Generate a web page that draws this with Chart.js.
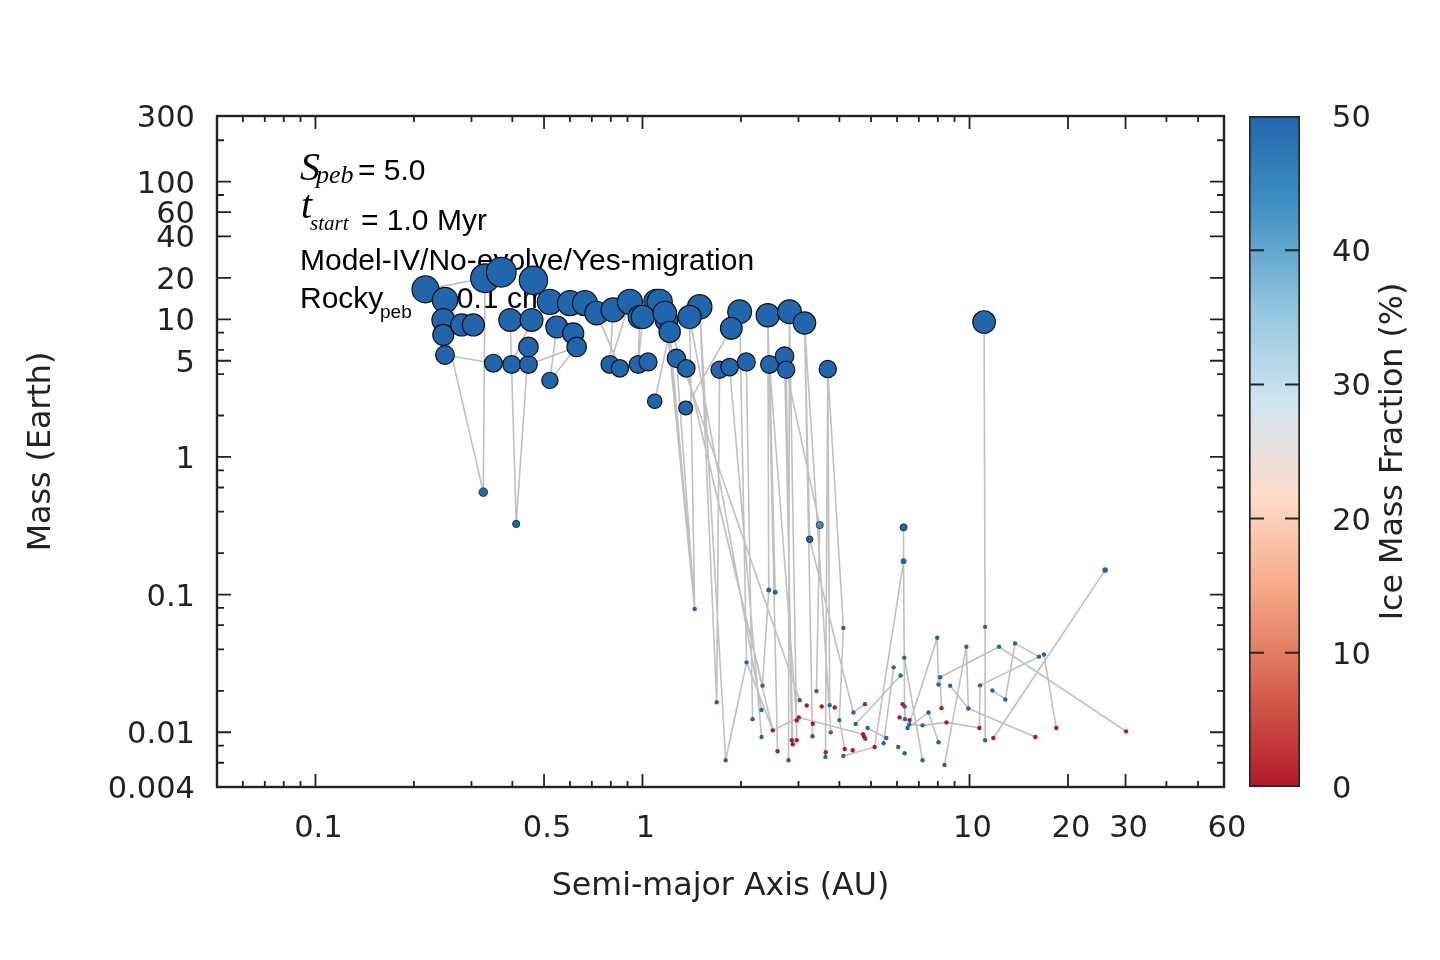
<!DOCTYPE html>
<html>
<head>
<meta charset="utf-8">
<script src="https://cdn.jsdelivr.net/npm/chart.js@4.4.1/dist/chart.umd.min.js"></script>
<style>
body { margin: 0; background: #fff; }
#wrap { position: relative; width: 1440px; height: 960px; }
#main { position: absolute; left: 0; top: 0; }
#cbar { position: absolute; left: 1240px; top: 0; }
</style>
</head>
<body>
<div id="wrap">
  <canvas id="main" width="1440" height="960"></canvas>
  <canvas id="cbar" width="200" height="960"></canvas>
</div>
<script>
// semi-major axis (AU) of each body
var aAU = [0.217, 0.249, 0.246, 0.246, 0.249, 0.280, 0.304, 0.330, 0.370, 0.464,
  0.394, 0.350, 0.398, 0.448, 0.448, 0.521, 0.458, 0.521, 0.547, 0.614,
  0.629, 0.600, 0.667, 0.724, 0.813, 0.915, 0.981, 1.103, 1.184, 0.795,
  0.853, 0.970, 1.040, 1.090, 1.129, 1.002, 1.170, 1.211, 1.496, 1.394,
  1.982, 1.869, 2.417, 2.815, 3.129, 1.270, 1.362, 1.721, 1.847, 2.077,
  2.446, 2.718, 2.750, 3.686, 1.356, 11.08,
  0.326, 0.411, 1.444, 2.433, 2.546, 3.246, 3.483, 6.285, 6.285, 25.98,
  11.16, 4.114, 7.964, 9.78, 12.31, 13.78, 16.31, 16.89, 2.081, 5.861,
  6.318, 6.155, 8.134, 8.037, 8.727, 10.77, 11.75, 12.87, 2.328, 1.686,
  2.312, 2.171, 2.312, 1.796, 2.795, 3.026, 3.404, 3.737, 3.31, 4.0,
  3.764, 3.626, 4.114, 4.415, 4.485, 4.878, 4.8, 5.462, 5.566, 6.054,
  6.33, 6.347, 6.465, 6.541, 6.33, 7.184, 7.184, 7.493, 8.037, 8.383,
  9.92, 11.16,
  2.503, 2.588, 2.86, 2.881, 2.963, 2.963, 3.005, 3.179, 3.316, 3.532,
  3.871, 4.153, 4.393, 3.634, 4.79, 4.727, 4.76, 5.127, 6.242, 6.111,
  6.556, 8.209, 8.5, 10.72, 11.83, 15.89, 18.42, 30.11];

// mass (Earth masses)
var mEarth = [16.5, 13.8, 9.9, 7.7, 5.5, 9.1, 9.1, 19.9, 22.0, 19.2,
  9.9, 4.8, 4.7, 4.7, 6.3, 3.6, 9.9, 13.4, 8.8, 7.9,
  6.3, 13.1, 13.1, 11.1, 11.7, 13.4, 10.4, 13.4, 9.9, 4.7,
  4.4, 4.7, 4.9, 2.54, 13.4, 10.4, 11.1, 8.1, 12.3, 10.4,
  11.35, 8.6, 10.7, 11.35, 9.4, 5.2, 4.4, 4.3, 4.5, 4.9,
  4.7, 5.4, 4.3, 4.35, 2.27, 9.56,
  0.555, 0.326, 0.0787, 0.108, 0.104, 0.252, 0.320, 0.308, 0.175, 0.1506,
  0.0583, 0.0573, 0.0486, 0.0418, 0.0418, 0.0442, 0.0354, 0.0367, 0.0322, 0.0296,
  0.0348, 0.0258, 0.0251, 0.0222, 0.0218, 0.0219, 0.0201, 0.0173, 0.0218, 0.0165,
  0.0145, 0.01245, 0.00923, 0.00626, 0.00626, 0.0171, 0.0199, 0.01573, 0.00934, 0.01225,
  0.00998, 0.00662, 0.00673, 0.01392, 0.01147, 0.01073, 0.00897, 0.00831, 0.00908, 0.00782,
  0.01539, 0.01245, 0.01073, 0.0114, 0.00704, 0.01122, 0.00626, 0.01392, 0.00845, 0.00579,
  0.01489, 0.00874,
  0.01032, 0.00728, 0.00874, 0.00818, 0.00874, 0.01219, 0.01281, 0.01565, 0.01152, 0.01539,
  0.01514, 0.00756, 0.0074, 0.00716, 0.016, 0.00966, 0.00928, 0.00782, 0.016, 0.01281,
  0.01225, 0.01496, 0.01179, 0.01073, 0.00908, 0.00923, 0.01073, 0.01015];

// ice mass fraction (%)
var iceFrac = [50, 50, 50, 50, 50, 50, 50, 50, 50, 50,
  50, 50, 50, 50, 50, 50, 50, 50, 50, 50,
  50, 50, 50, 50, 50, 50, 50, 50, 50, 50,
  50, 50, 50, 50, 50, 50, 50, 50, 50, 50,
  50, 50, 50, 50, 50, 50, 50, 50, 50, 50,
  50, 50, 50, 50, 50, 50,
  50, 50, 50, 50, 50, 50, 43, 50, 50, 50,
  50, 50, 50, 50, 50, 50, 50, 50, 50, 50,
  50, 50, 50, 50, 50, 50, 50, 50, 50, 50,
  50, 50, 50, 50, 50, 50, 50, 50, 50, 50,
  50, 50, 50, 50, 50, 50, 50, 50, 50, 50,
  50, 50, 50, 50, 50, 50, 50, 50, 50, 50,
  50, 50,
  0, 0, 0, 0, 0, 0, 0, 0, 0, 0,
  0, 0, 0, 0, 0, 0, 0, 0, 0, 0,
  0, 0, 0, 0, 0, 0, 0, 0];

// which bodies are joined by a grey line (index pairs)
var links = [[0,7],[7,56],[2,56],[10,57],[14,57],[15,18],[4,11],[1,5],[12,16],[13,20],
  [29,24],[31,26],[30,23],[33,37],[54,41],[37,58],[45,58],[39,58],[47,85],[40,74],
  [74,89],[74,118],[38,89],[39,86],[46,84],[48,88],[49,87],[42,59],[59,84],[50,60],
  [43,90],[51,121],[52,120],[44,61],[61,99],[44,94],[99,132],[53,93],[53,97],[53,67],
  [62,92],[52,62],[118,124],[124,133],[67,95],[95,129],[98,135],[100,77],[101,104],[75,103],
  [63,64],[64,106],[106,107],[64,135],[76,112],[108,113],[113,114],[109,111],[111,140],[140,141],
  [68,79],[68,109],[78,139],[78,70],[70,145],[80,116],[116,143],[69,116],[69,115],[81,72],
  [81,141],[71,83],[71,72],[83,82],[73,144],[65,142],[55,66],[66,117],[46,118],[36,91],
  [38,85],[28,58],[43,122],[42,119],[44,96],[50,123],[20,15],[25,29],[35,31]];

var xTickVals = [0.1, 0.5, 1, 10, 20, 30, 60];
var xMajor = [0.1, 0.5, 1, 10, 20, 30];
var xMinor = [0.06, 0.07, 0.08, 0.09, 0.2, 0.3, 0.4, 0.6, 0.7, 0.8, 0.9, 2, 3, 4, 5, 6, 7, 8, 9, 40, 50];
var yTickVals = [0.004, 0.01, 0.1, 1, 5, 10, 20, 40, 60, 100, 300];
var yMajor = [0.01, 0.1, 1, 5, 10, 20, 40, 60, 100];
var yMinor = [0.006, 0.008, 0.02, 0.04, 0.06, 0.08, 0.2, 0.4, 0.6, 0.8, 2, 4, 6, 8, 80, 200];
var cbTicks = [0, 10, 20, 30, 40, 50];
var cbStops = ['#b2182b', '#d6604d', '#f4a582', '#fddbc7', '#d1e5f0', '#92c5de', '#4393c3', '#2166ac'];

var INK = '#222222';
var tickFont = { family: 'DejaVu Sans', size: 30.5 };
var titleFont = { family: 'DejaVu Sans', size: 31.7 };

function hexRgb(h) {
  return [parseInt(h.substr(1, 2), 16), parseInt(h.substr(3, 2), 16), parseInt(h.substr(5, 2), 16)];
}

function iceColor(v) {
  var t = Math.max(0, Math.min(1, v / 50)) * (cbStops.length - 1);
  var i = Math.min(Math.floor(t), cbStops.length - 2);
  var f = t - i;
  var c0 = hexRgb(cbStops[i]), c1 = hexRgb(cbStops[i + 1]);
  var c = c0.map(function (c, k) { return Math.round(c + (c1[k] - c) * f); });
  return 'rgb(' + c.join(',') + ')';
}

var pts = aAU.map(function (a, i) {
  return { x: a, y: mEarth[i], ice: iceFrac[i] };
});

var linkData = [];
links.forEach(function (l) {
  linkData.push({ x: aAU[l[0]], y: mEarth[l[0]] });
  linkData.push({ x: aAU[l[1]], y: mEarth[l[1]] });
  linkData.push({ x: aAU[l[1]], y: null });
});

function drawTicks(ctx, ca, scale, vals, len, horiz) {
  vals.forEach(function (v) {
    var p = scale.getPixelForValue(v);
    ctx.beginPath();
    if (horiz) {
      ctx.moveTo(p, ca.bottom); ctx.lineTo(p, ca.bottom - len);
      ctx.moveTo(p, ca.top); ctx.lineTo(p, ca.top + len);
    } else {
      ctx.moveTo(ca.left, p); ctx.lineTo(ca.left + len, p);
      ctx.moveTo(ca.right, p); ctx.lineTo(ca.right - len, p);
    }
    ctx.stroke();
  });
}

var frame = {
  id: 'frame',
  afterDatasetsDraw: function (chart) {
    var ctx = chart.ctx, ca = chart.chartArea;
    ctx.save();
    ctx.strokeStyle = INK;
    ctx.lineWidth = 1.8;
    drawTicks(ctx, ca, chart.scales.x, xMajor, 13, true);
    drawTicks(ctx, ca, chart.scales.x, xMinor, 6, true);
    drawTicks(ctx, ca, chart.scales.y, yMajor, 14, false);
    drawTicks(ctx, ca, chart.scales.y, yMinor, 7, false);
    ctx.lineWidth = 2.4;
    ctx.strokeRect(ca.left, ca.top, ca.right - ca.left, ca.bottom - ca.top);
    ctx.restore();
  }
};

var notes = {
  id: 'notes',
  beforeDatasetsDraw: function (chart) {
    var ctx = chart.ctx;
    ctx.save();
    ctx.fillStyle = '#000';
    ctx.textBaseline = 'alphabetic';
    ctx.textAlign = 'left';
    ctx.font = 'italic 40px "Liberation Serif"';
    ctx.fillText('S', 300, 180);
    ctx.fillText('t', 301, 218);
    ctx.font = 'italic 26px "Liberation Serif"';
    ctx.fillText('peb', 316, 183);
    ctx.font = 'italic 21px "Liberation Serif"';
    ctx.fillText('start', 310, 230);
    ctx.font = '30px "Liberation Sans"';
    ctx.fillText('= 5.0', 358, 180);
    ctx.fillText('= 1.0 Myr', 361, 230);
    ctx.fillText('Model-IV/No-evolve/Yes-migration', 300, 270);
    ctx.fillText('Rocky', 300, 308);
    ctx.fillText('= 0.1 cm', 431, 308);
    ctx.font = '19px "Liberation Sans"';
    ctx.fillText('peb', 380, 318);
    ctx.restore();
  }
};

function bodyBorder(m) {
  if (m >= 1) return 1.2;
  if (m >= 0.2) return 0.7;
  return 0;
}

new Chart(document.getElementById('main'), {
  type: 'scatter',
  data: {
    datasets: [
      {
        type: 'scatter',
        data: pts,
        order: 0,
        backgroundColor: function (c) { return c.raw ? iceColor(c.raw.ice) : '#2166ac'; },
        borderColor: '#111',
        borderWidth: function (c) { return c.raw ? bodyBorder(c.raw.y) : 1; },
        pointRadius: function (c) { return c.raw ? Math.max(2.2, 5.3 * Math.cbrt(c.raw.y)) : 2; }
      },
      {
        type: 'line',
        data: linkData,
        order: 1,
        showLine: true,
        spanGaps: false,
        fill: false,
        borderColor: '#c0c0c0',
        borderWidth: 1.6,
        pointRadius: 0
      }
    ]
  },
  options: {
    responsive: false,
    devicePixelRatio: 1,
    animation: false,
    events: [],
    layout: { padding: { left: 0, top: 116, right: 216, bottom: 0 } },
    plugins: { legend: { display: false }, tooltip: { enabled: false } },
    scales: {
      x: {
        type: 'logarithmic',
        position: 'bottom',
        min: 0.05,
        max: 60,
        afterBuildTicks: function (s) { s.ticks = xTickVals.map(function (v) { return { value: v }; }); },
        afterFit: function (s) { s.height = 173; },
        grid: { display: false, drawTicks: false },
        border: { display: false },
        ticks: {
          padding: 24, autoSkip: false, maxRotation: 0, labelOffset: 3, color: INK, font: tickFont,
          callback: function (v) { return String(v); }
        },
        title: { display: true, text: 'Semi-major Axis (AU)', color: INK, font: titleFont, padding: { top: 0, bottom: 54 } }
      },
      y: {
        type: 'logarithmic',
        min: 0.004,
        max: 300,
        afterBuildTicks: function (s) { s.ticks = yTickVals.map(function (v) { return { value: v }; }); },
        afterFit: function (s) { s.width = 217; },
        grid: { display: false, drawTicks: false },
        border: { display: false },
        ticks: {
          padding: 22, autoSkip: false, labelOffset: 3, color: INK, font: tickFont,
          callback: function (v) { return String(v); }
        },
        title: { display: true, text: 'Mass (Earth)', color: INK, font: titleFont, padding: { top: 23, bottom: 0 } }
      }
    }
  },
  plugins: [notes, frame]
});

var cbDecor = {
  id: 'cbDecor',
  afterDatasetsDraw: function (chart) {
    var ctx = chart.ctx, ca = chart.chartArea, ys = chart.scales.y;
    ctx.save();
    ctx.strokeStyle = '#262626';
    ctx.lineWidth = 2;
    cbTicks.slice(1, -1).forEach(function (v) {
      var p = ys.getPixelForValue(v);
      ctx.beginPath();
      ctx.moveTo(ca.left, p); ctx.lineTo(ca.left + 15, p);
      ctx.moveTo(ca.right, p); ctx.lineTo(ca.right - 15, p);
      ctx.stroke();
    });
    ctx.translate(154, (ca.top + ca.bottom) / 2);
    ctx.rotate(-Math.PI / 2);
    ctx.fillStyle = INK;
    ctx.font = '31.7px "DejaVu Sans"';
    ctx.textAlign = 'center';
    ctx.textBaseline = 'middle';
    ctx.fillText('Ice Mass Fraction (%)', 0, 0);
    ctx.restore();
  }
};

new Chart(document.getElementById('cbar'), {
  type: 'bar',
  data: {
    labels: [''],
    datasets: [{
      data: [[cbTicks[0], cbTicks[cbTicks.length - 1]]],
      backgroundColor: function (c) {
        var ca = c.chart.chartArea;
        if (!ca) return cbStops[cbStops.length - 1];
        var g = c.chart.ctx.createLinearGradient(0, ca.bottom, 0, ca.top);
        cbStops.forEach(function (col, i) { g.addColorStop(i / (cbStops.length - 1), col); });
        return g;
      },
      borderColor: '#262626',
      borderWidth: 2,
      borderSkipped: false,
      barPercentage: 1,
      categoryPercentage: 1
    }]
  },
  options: {
    responsive: false,
    devicePixelRatio: 1,
    animation: false,
    events: [],
    layout: { padding: { left: 9, top: 116, right: 0, bottom: 173 } },
    plugins: { legend: { display: false }, tooltip: { enabled: false } },
    scales: {
      x: { display: false },
      y: {
        position: 'right',
        min: 0,
        max: 50,
        afterBuildTicks: function (s) { s.ticks = cbTicks.map(function (v) { return { value: v }; }); },
        afterFit: function (s) { s.width = 140; },
        grid: { display: false, drawTicks: false },
        border: { display: false },
        ticks: { padding: 32, labelOffset: 3, color: INK, font: tickFont }
      }
    }
  },
  plugins: [cbDecor]
});
</script>
</body>
</html>
